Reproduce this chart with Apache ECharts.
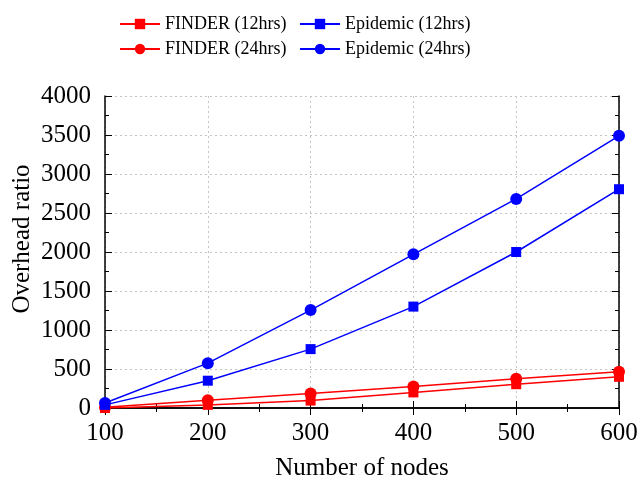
<!DOCTYPE html>
<html>
<head>
<meta charset="utf-8">
<script src="https://cdn.jsdelivr.net/npm/echarts@6/dist/echarts.min.js"></script>
<style>
  html, body { margin: 0; padding: 0; background: #fff; }
  #chart { width: 641px; height: 477px; }
</style>
</head>
<body>
<div id="chart"></div>
<script>
// number of nodes
let nodes = [100, 200, 300, 400, 500, 600];

// overhead ratio
let finder12 = [0, 40, 95, 200, 305, 400];
let finder24 = [10, 100, 185, 275, 375, 465];
let epidemic12 = [40, 350, 755, 1300, 2000, 2805];
let epidemic24 = [65, 575, 1255, 1970, 2680, 3490];

const pairs = (xs, ys) => xs.map((x, i) => [x, ys[i]]);

let chartDom = document.getElementById('chart');
let chart = echarts.init(chartDom);

let font = 'Liberation Serif';

const makeSeries = (name, data, color, symbol, size) => {
  return {
    name: name,
    type: 'line',
    data: pairs(nodes, data),
    symbol: symbol,
    symbolSize: size,
    showSymbol: true,
    itemStyle: { color: color },
    lineStyle: { color: color, width: 1.5 },
    xAxisIndex: 0,
    yAxisIndex: 0,
    z: 3
  }
}

const legendBox = (left, names) => {
  return {
    orient: 'vertical',
    left: left,
    top: 15,
    padding: 0,
    itemWidth: 40,
    itemHeight: 13,
    itemGap: 7,
    data: names,
    textStyle: { fontFamily: font, fontSize: 18, color: '#000' }
  }
}

let axisLine = { show: true, lineStyle: { color: '#000', width: 1.5 } };
let tick = { show: true, inside: true, length: 7, lineStyle: { color: '#000' } };
let minor = { show: true, splitNumber: 2, length: 4, lineStyle: { color: '#000' } };

let option = {
  animation: false,
  backgroundColor: '#fff',
  legend: [
    legendBox(119, ['FINDER (12hrs)', 'FINDER (24hrs)']),
    legendBox(299, ['Epidemic (12hrs)', 'Epidemic (24hrs)'])
  ],
  grid: { left: 105, right: 22, top: 96, bottom: 69, show: false, outerBoundsMode: 'none', containLabel: false },
  xAxis: [
    {
      type: 'value', min: 100, max: 600, interval: 100,
      name: 'Number of nodes', nameLocation: 'middle', nameGap: 48, nameMoveOverlap: false,
      nameTextStyle: { fontFamily: font, fontSize: 25, color: '#000' },
      axisLabel: { fontFamily: font, fontSize: 25, color: '#000', margin: 13 },
      axisLine: axisLine, axisTick: tick, minorTick: minor,
      splitLine: { show: true, lineStyle: { color: '#c4c4c4', type: [2, 3] } }
    },
    {
      type: 'value', min: 100, max: 600, interval: 100, position: 'top',
      axisLabel: { show: false }, axisLine: axisLine, axisTick: tick, minorTick: minor,
      splitLine: { show: false }
    }
  ],
  yAxis: [
    {
      type: 'value', min: 0, max: 4000, interval: 500,
      name: 'Overhead ratio', nameLocation: 'middle', nameGap: 70, nameMoveOverlap: false,
      nameTextStyle: { fontFamily: font, fontSize: 25, color: '#000', padding: [0, 0, 0, 26] },
      axisLabel: { fontFamily: font, fontSize: 25, color: '#000', margin: 14, formatter: (v) => String(v) },
      axisLine: axisLine, axisTick: tick, minorTick: minor,
      splitLine: { show: true, lineStyle: { color: '#c4c4c4', type: [2, 3] } }
    },
    {
      type: 'value', min: 0, max: 4000, interval: 500, position: 'right',
      axisLabel: { show: false }, axisLine: axisLine, axisTick: tick, minorTick: minor,
      splitLine: { show: false }
    }
  ],
  series: [
    makeSeries('FINDER (12hrs)', finder12, '#ff0000', 'rect', 10),
    makeSeries('FINDER (24hrs)', finder24, '#ff0000', 'circle', 12),
    makeSeries('Epidemic (12hrs)', epidemic12, '#0000ff', 'rect', 10),
    makeSeries('Epidemic (24hrs)', epidemic24, '#0000ff', 'circle', 12)
  ]
}

chart.setOption(option);
</script>
</body>
</html>
